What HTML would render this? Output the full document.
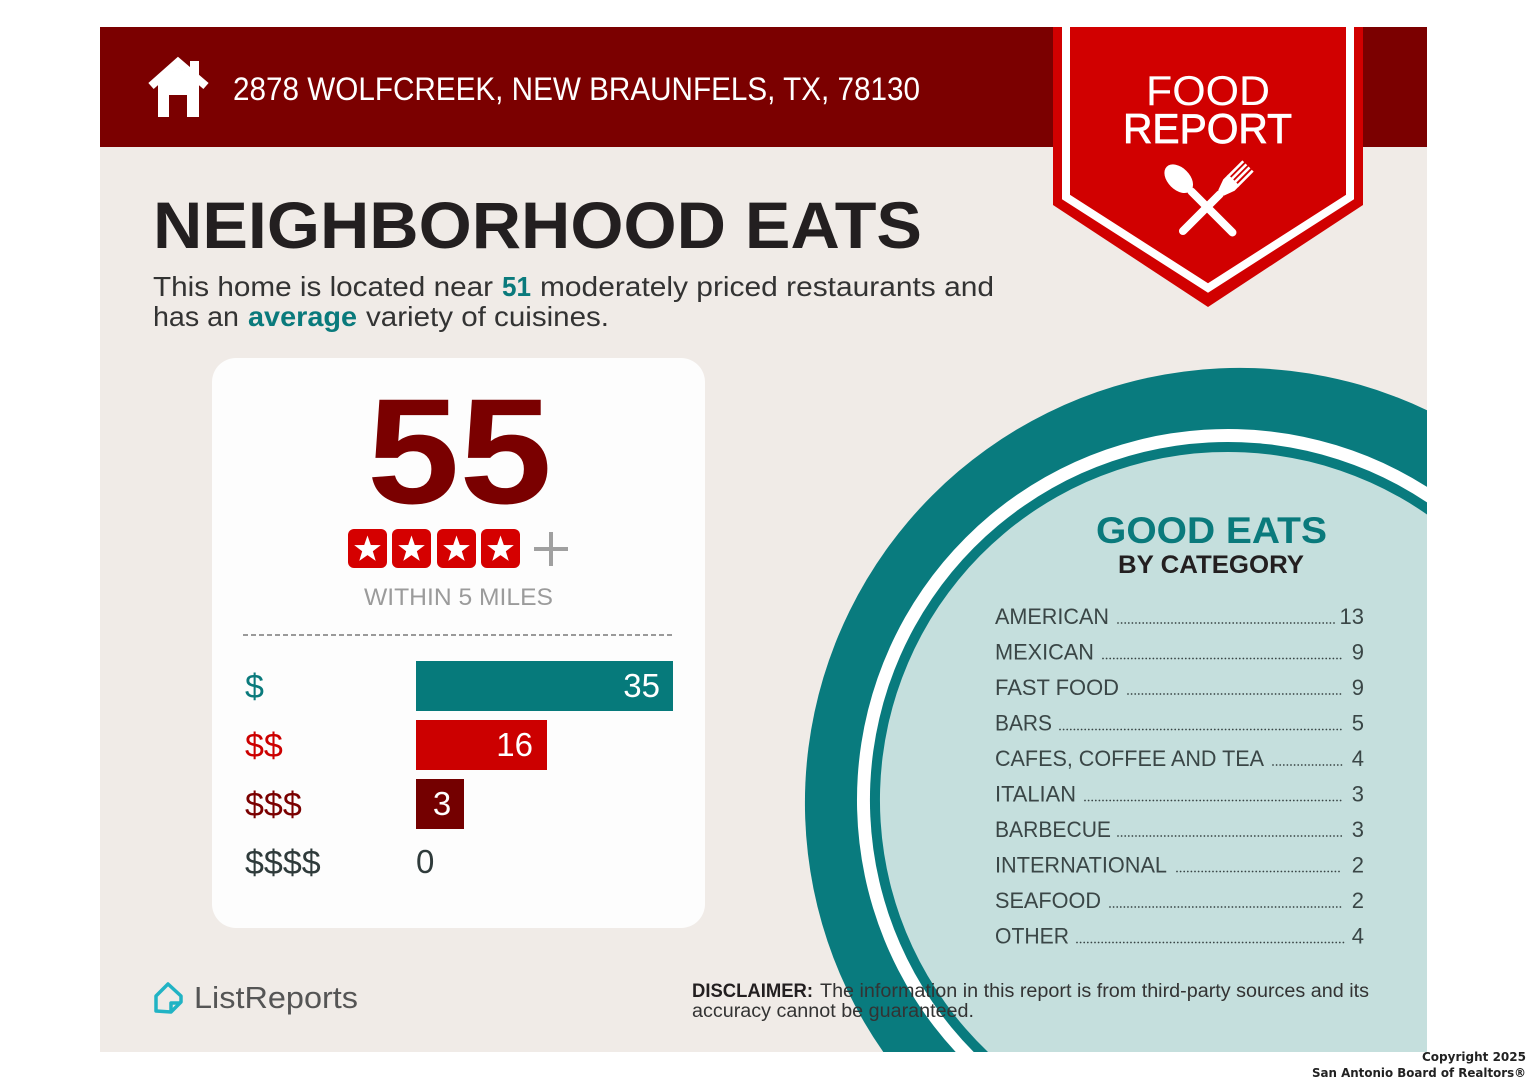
<!DOCTYPE html>
<html><head><meta charset="utf-8"><style>
html,body{margin:0;padding:0;background:#fff;width:1528px;height:1080px;overflow:hidden;}
svg{display:block;}
text{font-family:"Liberation Sans",Arial,sans-serif;}
</style></head><body>
<svg width="1528" height="1080" viewBox="0 0 1528 1080" xmlns="http://www.w3.org/2000/svg">
<rect x="0" y="0" width="1528" height="1080" fill="#ffffff"/>
<rect x="100" y="27" width="1327" height="1025" fill="#f0ebe7"/>

<!-- plate circle (pre-clipped arcs) -->
<path d="M1427,410.2 A435,435 0 0 0 883.3,1052 L1427,1052 Z" fill="#097b7e"/>
<path d="M1427,486.9 A371,371 0 0 0 955.7,1052 L1427,1052 Z" fill="#ffffff"/>
<path d="M1427,502.4 A358,358 0 0 0 973.7,1052 L1427,1052 Z" fill="#097b7e"/>
<path d="M1427,514.5 A348,348 0 0 0 988,1052 L1427,1052 Z" fill="#c5dfdd"/>

<!-- header -->
<rect x="100" y="27" width="1327" height="120" fill="#7b0000"/>
<g fill="#ffffff">
<polyline points="151,86 178,62 206,86" fill="none" stroke="#ffffff" stroke-width="8" stroke-linejoin="miter"/>
<rect x="190" y="61" width="9" height="16"/>
<polygon points="158,84 178,67 199,84 199,117 187,117 187,95 169,95 169,117 158,117"/>
</g>
<text x="233" y="100" font-size="32" fill="#ffffff" textLength="687" lengthAdjust="spacingAndGlyphs">2878 WOLFCREEK, NEW BRAUNFELS, TX, 78130</text>

<!-- badge -->
<polygon points="1053,27 1363,27 1363,205 1208,307 1053,205" fill="#d10000"/>
<polyline points="1066,27 1066,197 1208,288 1350,197 1350,27" fill="none" stroke="#ffffff" stroke-width="8"/>
<text x="1146" y="105" font-size="42" fill="#ffffff" textLength="124" lengthAdjust="spacingAndGlyphs">FOOD</text>
<text x="1123" y="143" font-size="42" fill="#ffffff" stroke="#ffffff" stroke-width="0.8" textLength="169" lengthAdjust="spacingAndGlyphs">REPORT</text>
<g transform="translate(1207,207) rotate(-45)" fill="#ffffff">
<rect x="-4" y="-26" width="8" height="66" rx="4"/>
<ellipse cx="0" cy="-40" rx="11" ry="17"/>
</g>
<g transform="translate(1207,207) rotate(45)" fill="#ffffff">
<rect x="-4" y="-22" width="8" height="60" rx="4"/>
<path d="M-4,-20 L-8,-31 L-8,-38 L8,-38 L8,-31 L4,-20 Z"/>
<rect x="-8" y="-58" width="2.6" height="22"/>
<rect x="-3.6" y="-58" width="2.6" height="22"/>
<rect x="0.8" y="-58" width="2.6" height="22"/>
<rect x="5.4" y="-58" width="2.6" height="22"/>
</g>

<!-- title -->
<text x="153" y="248" font-size="66" font-weight="bold" fill="#231f20" textLength="769" lengthAdjust="spacingAndGlyphs">NEIGHBORHOOD EATS</text>
<g font-size="28" fill="#333333">
<text x="153" y="296" textLength="340" lengthAdjust="spacingAndGlyphs">This home is located near</text>
<text x="502" y="296" font-weight="bold" fill="#0a7a7c" textLength="29" lengthAdjust="spacingAndGlyphs">51</text>
<text x="540" y="296" textLength="454" lengthAdjust="spacingAndGlyphs">moderately priced restaurants and</text>
<text x="153" y="326" textLength="86" lengthAdjust="spacingAndGlyphs">has an</text>
<text x="248" y="326" font-weight="bold" fill="#0a7a7c" textLength="109" lengthAdjust="spacingAndGlyphs">average</text>
<text x="366" y="326" textLength="243" lengthAdjust="spacingAndGlyphs">variety of cuisines.</text>
</g>

<!-- card -->
<rect x="212" y="358" width="493" height="570" rx="24" fill="#fdfdfd"/>
<text x="367" y="503" font-size="150" font-weight="bold" fill="#7a0000" textLength="185" lengthAdjust="spacingAndGlyphs">55</text>
<g fill="#d50000">
<rect x="348" y="529" width="39" height="39" rx="6"/>
<rect x="392" y="529" width="39" height="39" rx="6"/>
<rect x="437" y="529" width="39" height="39" rx="6"/>
<rect x="481" y="529" width="39" height="39" rx="6"/>
</g>
<g fill="#ffffff">
<polygon transform="translate(367.5,549.5)" points="0,-14 3.29,-4.53 13.31,-4.33 5.33,1.73 8.23,11.33 0,5.6 -8.23,11.33 -5.33,1.73 -13.31,-4.33 -3.29,-4.53"/>
<polygon transform="translate(411.5,549.5)" points="0,-14 3.29,-4.53 13.31,-4.33 5.33,1.73 8.23,11.33 0,5.6 -8.23,11.33 -5.33,1.73 -13.31,-4.33 -3.29,-4.53"/>
<polygon transform="translate(456.5,549.5)" points="0,-14 3.29,-4.53 13.31,-4.33 5.33,1.73 8.23,11.33 0,5.6 -8.23,11.33 -5.33,1.73 -13.31,-4.33 -3.29,-4.53"/>
<polygon transform="translate(500.5,549.5)" points="0,-14 3.29,-4.53 13.31,-4.33 5.33,1.73 8.23,11.33 0,5.6 -8.23,11.33 -5.33,1.73 -13.31,-4.33 -3.29,-4.53"/>
</g>
<rect x="534" y="547" width="34" height="4" fill="#a0a0a0"/>
<rect x="549" y="532" width="4" height="34" fill="#a0a0a0"/>
<text x="364" y="605" font-size="24" fill="#9b9b9b" textLength="189" lengthAdjust="spacingAndGlyphs">WITHIN 5 MILES</text>
<line x1="243" y1="635" x2="673" y2="635" stroke="#9a9a9a" stroke-width="2" stroke-dasharray="5 3"/>

<g font-size="34">
<text x="245" y="698" fill="#0a7a7c">$</text>
<text x="245" y="757" fill="#cc0000">$$</text>
<text x="245" y="816" fill="#7a0000">$$$</text>
<text x="245" y="874" fill="#2f3b3b">$$$$</text>
</g>
<rect x="416" y="661" width="257" height="50" fill="#067a7b"/>
<rect x="416" y="720" width="131" height="50" fill="#cc0000"/>
<rect x="416" y="779" width="48" height="50" fill="#740000"/>
<g font-size="33" fill="#ffffff">
<text x="660" y="697" text-anchor="end">35</text>
<text x="533" y="756" text-anchor="end">16</text>
<text x="442" y="815" text-anchor="middle">3</text>
</g>
<text x="416" y="873" font-size="33" fill="#2f3b3b">0</text>

<!-- good eats -->
<text x="1096" y="543" font-size="37" font-weight="bold" fill="#0a7a7c" textLength="231" lengthAdjust="spacingAndGlyphs">GOOD EATS</text>
<text x="1118" y="573" font-size="25" font-weight="bold" fill="#231f20" textLength="186" lengthAdjust="spacingAndGlyphs">BY CATEGORY</text>

<g font-size="22" fill="#3a4646">
<text x="995" y="624" textLength="114" lengthAdjust="spacingAndGlyphs">AMERICAN</text>
<text x="1364" y="624" text-anchor="end">13</text>
<text x="995" y="659.5" textLength="99" lengthAdjust="spacingAndGlyphs">MEXICAN</text>
<text x="1364" y="659.5" text-anchor="end">9</text>
<text x="995" y="695" textLength="124" lengthAdjust="spacingAndGlyphs">FAST FOOD</text>
<text x="1364" y="695" text-anchor="end">9</text>
<text x="995" y="730.5" textLength="57" lengthAdjust="spacingAndGlyphs">BARS</text>
<text x="1364" y="730.5" text-anchor="end">5</text>
<text x="995" y="766" textLength="269" lengthAdjust="spacingAndGlyphs">CAFES, COFFEE AND TEA</text>
<text x="1364" y="766" text-anchor="end">4</text>
<text x="995" y="801.5" textLength="81" lengthAdjust="spacingAndGlyphs">ITALIAN</text>
<text x="1364" y="801.5" text-anchor="end">3</text>
<text x="995" y="837" textLength="116" lengthAdjust="spacingAndGlyphs">BARBECUE</text>
<text x="1364" y="837" text-anchor="end">3</text>
<text x="995" y="872.5" textLength="172" lengthAdjust="spacingAndGlyphs">INTERNATIONAL</text>
<text x="1364" y="872.5" text-anchor="end">2</text>
<text x="995" y="908" textLength="106" lengthAdjust="spacingAndGlyphs">SEAFOOD</text>
<text x="1364" y="908" text-anchor="end">2</text>
<text x="995" y="943.5" textLength="74" lengthAdjust="spacingAndGlyphs">OTHER</text>
<text x="1364" y="943.5" text-anchor="end">4</text>
</g>
<g stroke="#3a4646" stroke-width="1.8" stroke-linecap="round" stroke-dasharray="0 3.6" fill="none">
<line x1="1118" y1="623" x2="1337" y2="623"/>
<line x1="1103" y1="658.5" x2="1342" y2="658.5"/>
<line x1="1128" y1="694" x2="1342" y2="694"/>
<line x1="1060" y1="729.5" x2="1342" y2="729.5"/>
<line x1="1273" y1="765" x2="1344" y2="765"/>
<line x1="1085" y1="800.5" x2="1344" y2="800.5"/>
<line x1="1118" y1="836" x2="1344" y2="836"/>
<line x1="1177" y1="871.5" x2="1342" y2="871.5"/>
<line x1="1110" y1="907" x2="1342" y2="907"/>
<line x1="1077" y1="942.5" x2="1344" y2="942.5"/>
</g>

<!-- disclaimer -->
<g font-size="19" fill="#333333">
<text x="692" y="997" font-weight="bold" fill="#231f20" textLength="121" lengthAdjust="spacingAndGlyphs">DISCLAIMER:</text>
<text x="820" y="997" textLength="549" lengthAdjust="spacingAndGlyphs">The information in this report is from third-party sources and its</text>
<text x="692" y="1017" textLength="282" lengthAdjust="spacingAndGlyphs">accuracy cannot be guaranteed.</text>
</g>

<!-- ListReports logo -->
<g fill="none" stroke="#21b3c4" stroke-width="3.5" stroke-linejoin="round">
<path d="M156,1011 L156,996 L168,984 L181,996 L181,1002 L171,1012 Z"/>
<path d="M171,1011 L171,1003 L180,1003"/>
</g>
<text x="194" y="1008" font-size="31" fill="#555555" textLength="164" lengthAdjust="spacingAndGlyphs">ListReports</text>

<!-- copyright -->
<g font-weight="bold" font-size="12.5" fill="#222222">
<text x="1422" y="1061" textLength="104" lengthAdjust="spacingAndGlyphs" style="font-family:'DejaVu Sans',sans-serif">Copyright 2025</text>
<text x="1312" y="1077" textLength="214" lengthAdjust="spacingAndGlyphs" style="font-family:'DejaVu Sans',sans-serif">San Antonio Board of Realtors®</text>
</g>
</svg>
</body></html>
